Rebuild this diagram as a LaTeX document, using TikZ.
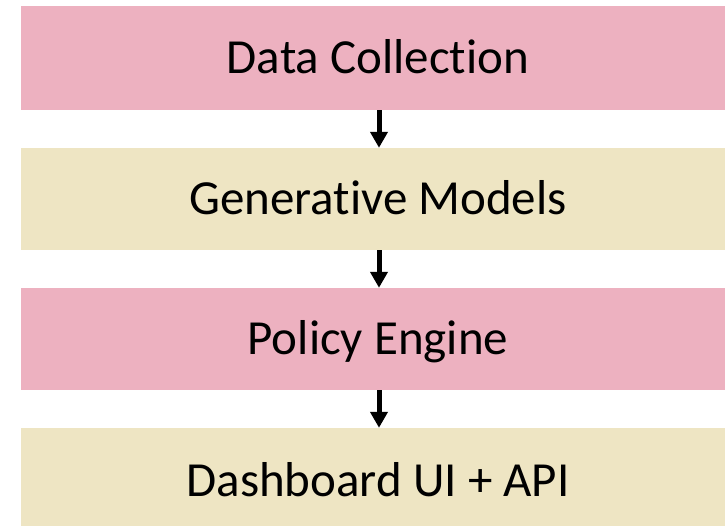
\documentclass[tikz,border=0pt]{standalone}
\usepackage{fontspec}
\setmainfont[Ligatures=NoCommon]{Carlito}
\usetikzlibrary{arrows.meta}
\definecolor{pinkbox}{HTML}{EDB1C0}
\definecolor{beigebox}{HTML}{EEE5C3}
\begin{document}
\begin{tikzpicture}[x=1pt,y=-1pt,
  layer/.style={rectangle,draw=none,minimum width=714pt,inner sep=0pt,
    text height=31.6pt,text depth=0pt,font=\fontsize{49}{58}\selectfont},
  flowarrow/.style={line width=5pt,-{Triangle[width=17pt,length=16pt]}}]
\useasboundingbox (0,0) rectangle (725,526);
\clip (0,0) rectangle (725,526);
\fill[white] (0,0) rectangle (725,526);
\node[layer,fill=pinkbox,minimum height=104pt] (dc) at (378,58) {Data Collection};
\node[layer,fill=beigebox,minimum height=102pt] (gm) at (378,199) {Generative Models};
\node[layer,fill=pinkbox,minimum height=102pt] (pe) at (378,339) {Policy Engine};
\node[layer,fill=beigebox,minimum height=106pt] (ui) at (378,481) {Dashboard UI + API};
\coordinate (ax) at (379,0);
\draw[flowarrow] (dc.south -| ax) -- (gm.north -| ax);
\draw[flowarrow] (gm.south -| ax) -- (pe.north -| ax);
\draw[flowarrow] (pe.south -| ax) -- (ui.north -| ax);
\end{tikzpicture}
\end{document}
